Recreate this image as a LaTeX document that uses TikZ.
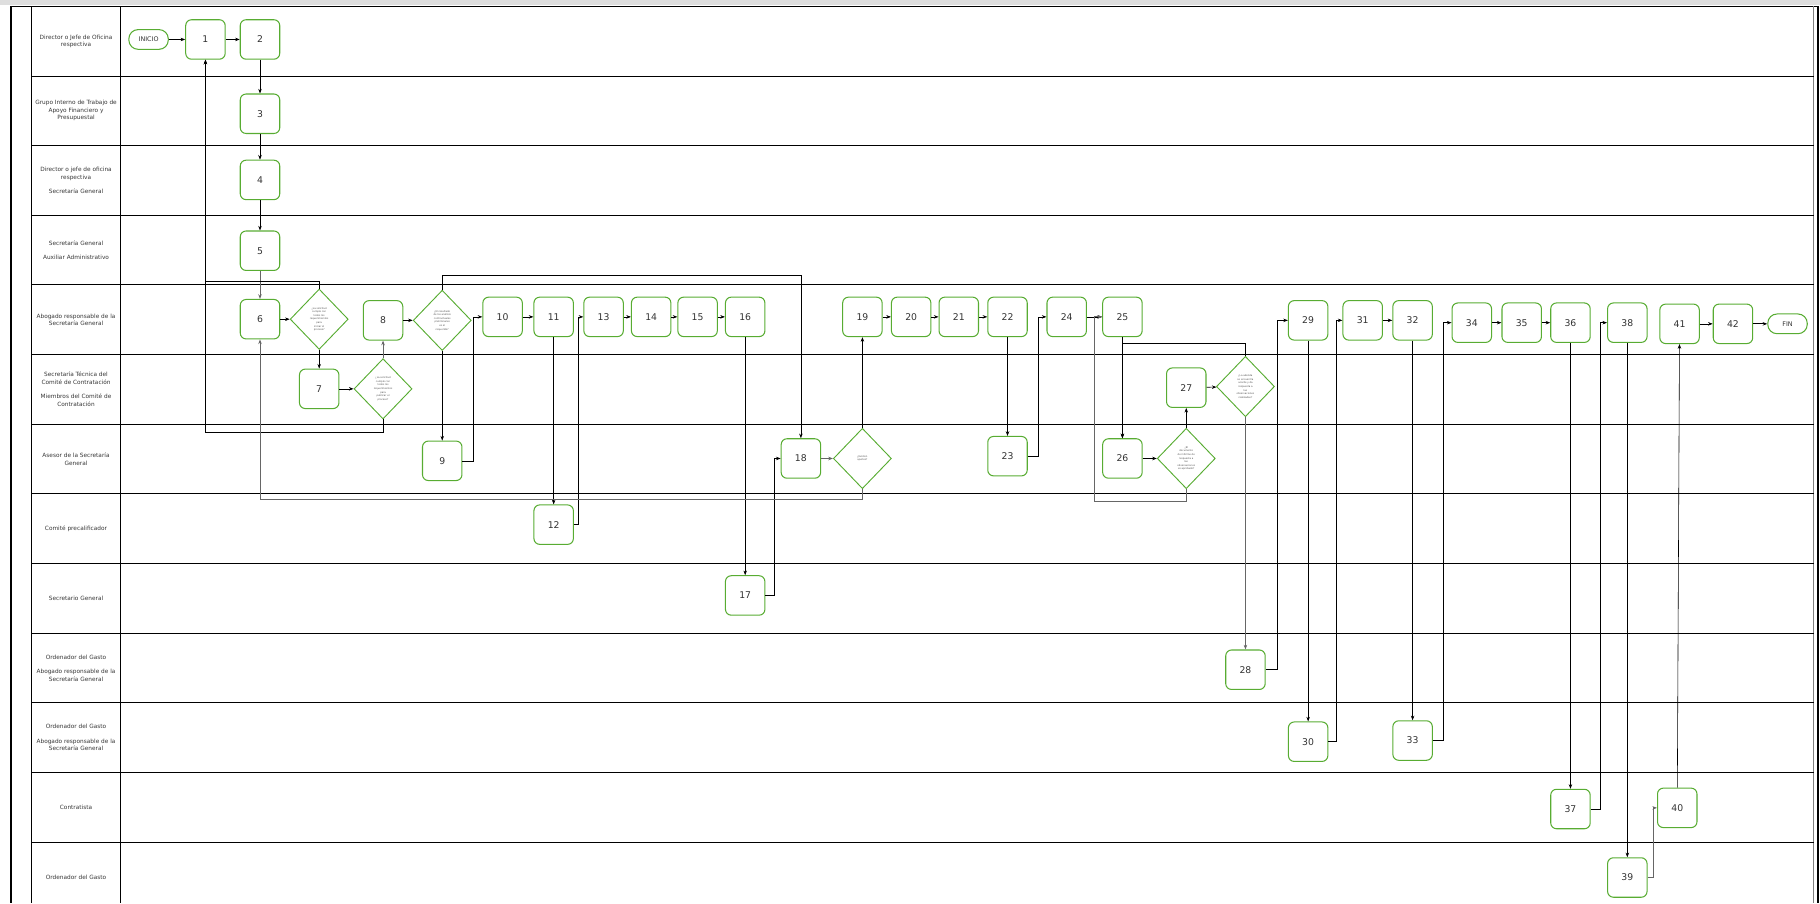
\documentclass[tikz,border=0pt]{standalone}
\usepackage{fontspec}
\setmainfont{DejaVu Sans}
\usepackage{tikz}
\usetikzlibrary{shapes.geometric, arrows.meta, positioning, calc}

\definecolor{pasoverde}{RGB}{88,172,50}
\definecolor{textocarril}{RGB}{55,55,55}

\begin{document}
\begin{tikzpicture}[
  x=1pt, y=-1pt,
  paso/.style={draw=pasoverde, line width=0.9pt, rounded corners=5pt, minimum width=34pt, minimum height=34pt, inner sep=0pt, font=\fontsize{8}{9}\selectfont, text=black!80},
  pregunta/.style={diamond, draw=pasoverde, line width=0.8pt, minimum width=50pt, minimum height=52pt, inner sep=0pt, align=center, font=\fontsize{2.1}{3.1}\selectfont, text=black!70},
  terminal/.style={draw=pasoverde, line width=0.9pt, rounded corners=8pt, minimum width=34pt, minimum height=17pt, inner sep=0pt, font=\fontsize{5.5}{6.5}\selectfont, text=black!80},
  carril/.style={align=center, font=\fontsize{5}{6.5}\selectfont, text=textocarril},
  arr/.style={-{Stealth[length=4pt,width=3pt]}, line width=0.5pt},
  garr/.style={arr, draw=black!60, line width=0.7pt},
]
\useasboundingbox (0,0) rectangle (1568,778);

% Marco y carriles
\fill[black!13] (0,0) rectangle (1568,4.5);
\draw[line width=1.5pt] (9.5,5.5) -- (1566,5.5);
\draw[line width=2pt] (9.5,5.5) -- (9.5,778);
\draw[line width=2pt] (1566,5.5) -- (1566,778);
\draw[black!50, line width=0.6pt] (1562.5,5.5) -- (1562.5,778);
\foreach \k in {1,...,12}
  \draw[line width=0.8pt] (27.5,5.5+60*\k) -- (1562.5,5.5+60*\k);
\draw[line width=0.8pt] (27.5,5.5) -- (27.5,778) (103.5,5.5) -- (103.5,778);

% Responsables
\node[carril] (lab1) at (65.5,35.5) {Director o Jefe de Oficina\\respectiva};
\node[carril] (lab2) at (65.5,95.5) {Grupo Interno de Trabajo de\\Apoyo Financiero y\\Presupuestal};
\node[carril] (lab3) at (65.5,155.5) {Director o jefe de oficina\\respectiva\\[6pt]Secretaría General};
\node[carril] (lab4) at (65.5,215.5) {Secretaría General\\[6pt]Auxiliar Administrativo};
\node[carril] (lab5) at (65.5,275.5) {Abogado responsable de la\\Secretaría General};
\node[carril] (lab6) at (65.5,335.5) {Secretaría Técnica del\\Comité de Contratación\\[6pt]Miembros del Comité de\\Contratación};
\node[carril] (lab7) at (65.5,395.5) {Asesor de la Secretaría\\General};
\node[carril] (lab8) at (65.5,455.5) {Comité precalificador};
\node[carril] (lab9) at (65.5,515.5) {Secretario General};
\node[carril] (lab10) at (65.5,575.5) {Ordenador del Gasto\\[6pt]Abogado responsable de la\\Secretaría General};
\node[carril] (lab11) at (65.5,635.5) {Ordenador del Gasto\\[6pt]Abogado responsable de la\\Secretaría General};
\node[carril] (lab12) at (65.5,695.5) {Contratista};
\node[carril] (lab13) at (65.5,755.5) {Ordenador del Gasto};

% Pasos
\node[terminal] (inicio) at (128,34) {INICIO};
\node[paso] (p1) at (177,34) {1};
\node[paso] (p2) at (224,34) {2};
\node[paso] (p3) at (224,98) {3};
\node[paso] (p4) at (224,155) {4};
\node[paso] (p5) at (224,216) {5};
\node[paso] (p6) at (224,275) {6};
\node[pregunta] (q1) at (275,275) {¿La solicitud\\cumple con\\todos los\\requerimientos\\para\\iniciar el\\proceso?};
\node[paso] (p7) at (275,335) {7};
\node[pregunta] (q2) at (330,335) {¿La solicitud\\cumple con\\todos los\\requerimientos\\para\\publicar el\\proceso?};
\node[paso] (p8) at (330,276) {8};
\node[pregunta] (q3) at (381,276) {¿El resultado\\de los análisis\\contractuales\\preliminares\\es el\\requerido?};
\node[paso] (p9) at (381,397) {9};
\node[paso] (p10) at (433,273) {10};
\node[paso] (p11) at (477,273) {11};
\node[paso] (p12) at (477,452) {12};
\node[paso] (p13) at (520,273) {13};
\node[paso] (p14) at (561,273) {14};
\node[paso] (p15) at (601,273) {15};
\node[paso] (p16) at (642,273) {16};
\node[paso] (p17) at (642,513) {17};
\node[paso] (p18) at (690,395) {18};
\node[pregunta] (q4) at (743,395) {¿Existen\\ajustes?};
\node[paso] (p19) at (743,273) {19};
\node[paso] (p20) at (785,273) {20};
\node[paso] (p21) at (826,273) {21};
\node[paso] (p22) at (868,273) {22};
\node[paso] (p23) at (868,393) {23};
\node[paso] (p24) at (919,273) {24};
\node[paso] (p25) at (967,273) {25};
\node[paso] (p26) at (967,395) {26};
\node[pregunta] (q5) at (1022,395) {¿El\\documento\\de informe de\\respuesta a\\las\\observaciones\\es aprobado?};
\node[paso] (p27) at (1022,334) {27};
\node[pregunta] (q6) at (1073,333) {¿La adenda\\se encuentra\\acorde y da\\respuesta a\\las\\observaciones\\realizadas?};
\node[paso] (p28) at (1073,577) {28};
\node[paso] (p29) at (1127,276) {29};
\node[paso] (p30) at (1127,639) {30};
\node[paso] (p31) at (1174,276) {31};
\node[paso] (p32) at (1217,276) {32};
\node[paso] (p33) at (1217,638) {33};
\node[paso] (p34) at (1268,278) {34};
\node[paso] (p35) at (1311,278) {35};
\node[paso] (p36) at (1353,278) {36};
\node[paso] (p37) at (1353,697) {37};
\node[paso] (p38) at (1402,278) {38};
\node[paso] (p39) at (1402,756) {39};
\node[paso] (p40) at (1445,696) {40};
\node[paso] (p41) at (1447,279) {41};
\node[paso] (p42) at (1493,279) {42};
\node[terminal] (fin) at (1540,279) {FIN};

% Flujo
\draw[arr] (inicio) -- (p1);
\draw[arr] (p1) -- (p2);
\draw[arr] (p2) -- (p3);
\draw[arr] (p3) -- (p4);
\draw[arr] (p4) -- (p5);
\draw[garr] (p5) -- (p6);
\draw[arr] (p6) -- (q1);
\draw[arr] (q1.north) -- ++(0,-6) -| (p1);
\draw[arr] (q1) -- (p7);
\draw[arr] (p7) -- (q2);
\draw[garr] (q2) -- (p8);
\draw[arr] (q2.south) -- ++(0,11) -| (p1);
\draw[arr] (p8) -- (q3);
\draw[arr] (q3.north) -- ++(0,-12) -| (p18);
\draw[arr] (q3) -- (p9);
\draw[arr] (p9.east) -- ++(9,0) |- (p10);
\draw[arr] (p10) -- (p11);
\draw[arr] (p11) -- (p12);
\draw[arr] (p12.east) -- ++(4,0) |- (p13);
\draw[arr] (p13) -- (p14);
\draw[arr] (p14) -- (p15);
\draw[arr] (p15) -- (p16);
\draw[arr] (p16) -- (p17);
\draw[arr] (p17.east) -- ++(8,0) |- (p18);
\draw[garr] (p18) -- (q4);
\draw[arr] (q4) -- (p19);
\draw[garr] (q4.south) -- ++(0,9) -| (p6);
\draw[arr] (p19) -- (p20);
\draw[arr] (p20) -- (p21);
\draw[arr] (p21) -- (p22);
\draw[arr] (p22) -- (p23);
\draw[arr] (p23.east) -- ++(9,0) |- (p24);
\draw[arr] (p24) -- (p25);
\draw[arr] (p25) -- (p26);
\draw[arr] (p26) -- (q5);
\draw[arr] (q5) -- (p27);
\draw[garr] (q5.south) -- ++(0,11) -- ++(-79,0) |- (p25);
\draw[arr] (p27) -- (q6);
\draw[arr] (q6.north) -- ++(0,-11) -| (p26);
\draw[garr] (q6) -- (p28);
\draw[arr] (p28.east) -- ++(10,0) |- (p29);
\draw[arr] (p29) -- (p30);
\draw[arr] (p30.east) -- ++(7,0) |- (p31);
\draw[arr] (p31) -- (p32);
\draw[arr] (p32) -- (p33);
\draw[arr] (p33.east) -- ++(9,0) |- (p34);
\draw[arr] (p34) -- (p35);
\draw[arr] (p35) -- (p36);
\draw[arr] (p36) -- (p37);
\draw[arr] (p37.east) -- ++(8,0) |- (p38);
\draw[arr] (p38) -- (p39);
\draw[garr] (p39.east) -- ++(5,0) |- (p40);
\draw[arr] (p40) -- (p41);
\draw[arr] (p41) -- (p42);
\draw[arr, line width=0.9pt] (p42) -- (fin);

\end{tikzpicture}
\end{document}
